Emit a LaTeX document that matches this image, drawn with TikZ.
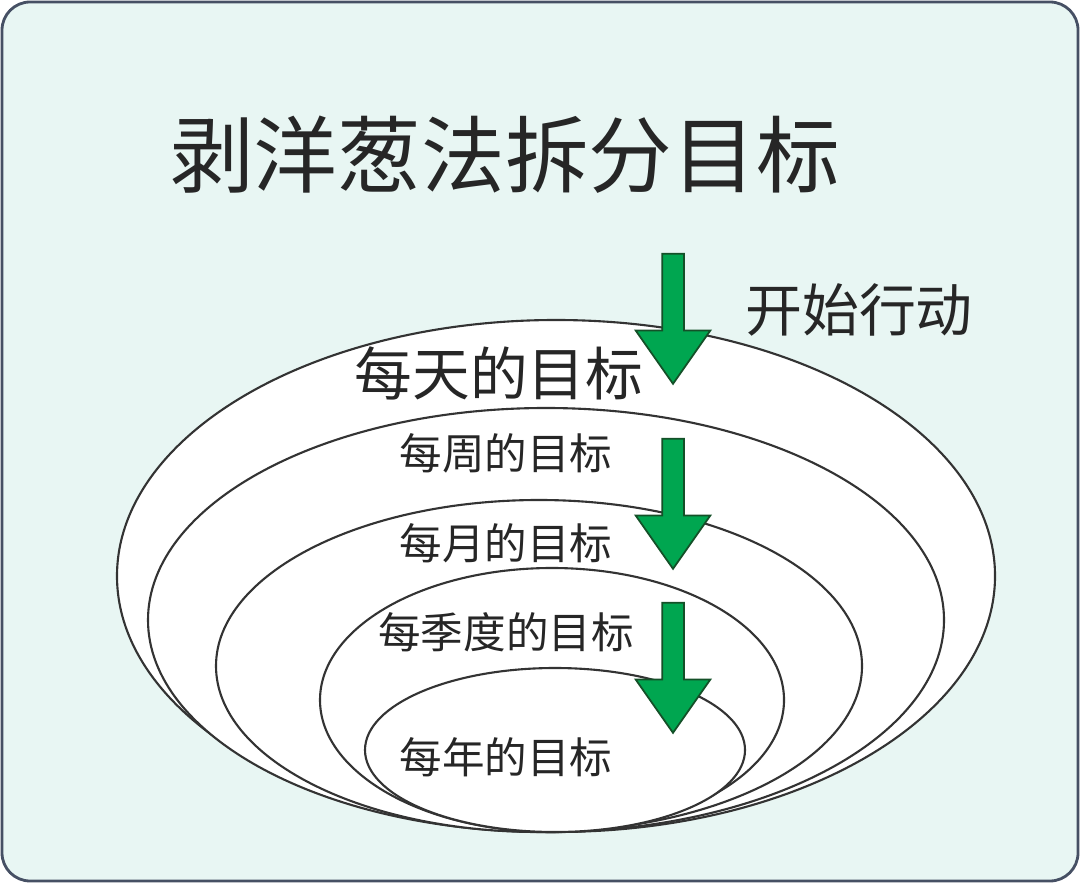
\documentclass[tikz,border=0pt]{standalone}
\usepackage{fontspec}
\setmainfont{Noto Sans CJK SC}
\usetikzlibrary{shapes.arrows,positioning}
\definecolor{bgmint}{RGB}{232,246,243}
\definecolor{frameblue}{RGB}{70,80,100}
\definecolor{arrowgreen}{RGB}{0,166,80}
\definecolor{arrowedge}{RGB}{20,80,40}
\tikzset{
  layer/.style={draw=black!80,fill=white,line width=0.6pt},
  downarrow/.style={single arrow,draw=arrowedge,fill=arrowgreen,line width=0.5pt,
    shape border rotate=270,minimum height=1.3cm,minimum width=0.73cm,
    inner sep=0.1cm,single arrow head extend=0.265cm,single arrow tip angle=70},
  ring/.style={text=black!85}
}
\begin{document}
\begin{tikzpicture}[x=0.01cm,y=-0.01cm]
   \useasboundingbox (0,0) rectangle (1080,883);
   \draw[frameblue,fill=bgmint,rounded corners=8pt,line width=0.8pt] (2,2) rectangle (1078,881);
   % onion layers
   \draw[layer] (556,576) ellipse [x radius=439,y radius=256];
   \draw[layer] (546,620) ellipse [x radius=398,y radius=212];
   \draw[layer] (539,666) ellipse [x radius=323,y radius=166];
   \draw[layer] (552,700) ellipse [x radius=232,y radius=132];
   \draw[layer] (555,750) ellipse [x radius=190,y radius=82];
   % texts
   \node[ring,font=\fontsize{23.8}{27}\selectfont] (title) at (505,155) {剥洋葱法拆分目标};
   \node[ring,font=\fontsize{16.2}{19}\selectfont] (start) at (859,310) {开始行动};
   \node[ring,font=\fontsize{16.4}{19}\selectfont] (day) at (499,373) {每天的目标};
   \node[ring,font=\fontsize{12.1}{14}\selectfont] (week) at (506,453) {每周的目标};
   \node[ring,font=\fontsize{12.1}{14}\selectfont] (month) at (506,543) {每月的目标};
   \node[ring,font=\fontsize{12.1}{14}\selectfont] (season) at (506,632) {每季度的目标};
   \node[ring,font=\fontsize{12.1}{14}\selectfont] (year) at (506,757) {每年的目标};
   % arrows
   \node[downarrow] (a1) at (673,311) {};
   \node[downarrow] (a2) at (673,496) {};
   \node[downarrow] (a3) at (673,660) {};
\end{tikzpicture}
\end{document}
